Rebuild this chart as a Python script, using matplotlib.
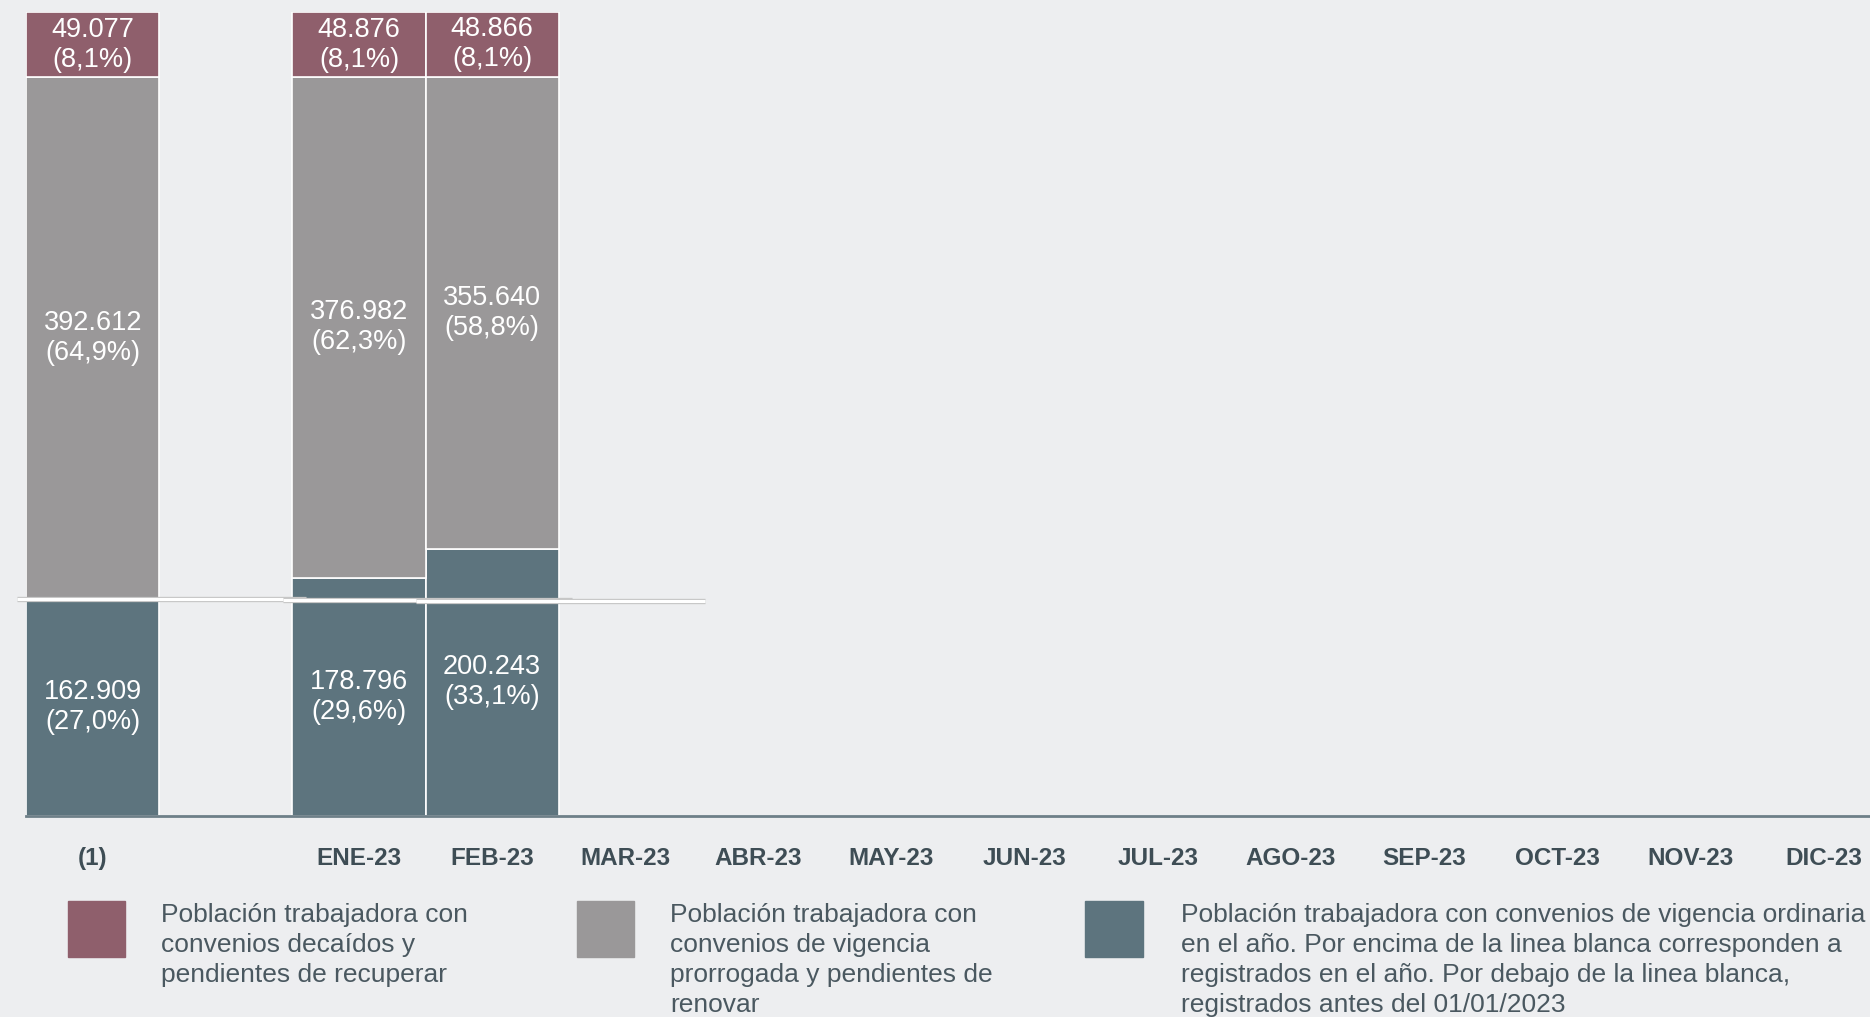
import matplotlib
matplotlib.use('Agg')
import matplotlib.pyplot as plt
import matplotlib.patheffects as pe
from matplotlib.patches import Rectangle

# categorias del eje x (la segunda queda vacia)
categorias = ['(1)', '', 'ENE-23', 'FEB-23', 'MAR-23', 'ABR-23', 'MAY-23', 'JUN-23',
              'JUL-23', 'AGO-23', 'SEP-23', 'OCT-23', 'NOV-23', 'DIC-23']

# barras con datos: (1), ENE-23, FEB-23
barras = ['(1)', 'ENE-23', 'FEB-23']
vigencia_ordinaria = [162909, 178796, 200243]
prorrogada = [392612, 376982, 355640]
decaidos = [49077, 48876, 48866]
# nivel de la linea blanca (registrados antes del 01/01/2023), estimado
antes_2023 = [162909, 162150, 161650]

pct_ordinaria = ['27,0%', '29,6%', '33,1%']
pct_prorrogada = ['64,9%', '62,3%', '58,8%']
pct_decaidos = ['8,1%', '8,1%', '8,1%']

leyenda = [
    'Población trabajadora con\nconvenios decaídos y\npendientes de recuperar',
    'Población trabajadora con\nconvenios de vigencia\nprorrogada y pendientes de\nrenovar',
    'Población trabajadora con convenios de vigencia ordinaria\n'
    'en el año. Por encima de la linea blanca corresponden a\n'
    'registrados en el año. Por debajo de la linea blanca,\n'
    'registrados antes del 01/01/2023',
]

# colores
c_fondo = '#EDEEF0'
c_decaidos = '#8F5F6C'
c_prorrogada = '#9A9899'
c_ordinaria = '#5D747E'
c_texto = '#3E4D55'

plt.rcParams['font.family'] = ['Liberation Sans', 'DejaVu Sans']

fig = plt.figure(figsize=(18.7, 10.17), dpi=100, facecolor=c_fondo)
W, H = 1568, 853  # referencia para posiciones
ax = fig.add_axes([22 / W, 1 - 684 / H, 1 - 22 / W, (684 - 10) / H])
ax.set_facecolor(c_fondo)

x = [categorias.index(b) for b in barras]
fmt = lambda v: f'{v:,}'.replace(',', '.')

ax.bar(x, vigencia_ordinaria, width=1.0, color=c_ordinaria, edgecolor='white', linewidth=1.2)
ax.bar(x, prorrogada, width=1.0, bottom=vigencia_ordinaria, color=c_prorrogada,
       edgecolor='white', linewidth=1.2)
base3 = [a + b for a, b in zip(vigencia_ordinaria, prorrogada)]
ax.bar(x, decaidos, width=1.0, bottom=base3, color=c_decaidos, edgecolor='white', linewidth=1.2)

# etiquetas de valor
kw = dict(ha='center', va='center', color='white', fontsize=19.5, linespacing=1.2)
for i, xi in enumerate(x):
    ax.text(xi, vigencia_ordinaria[i] / 2,
            f'{fmt(vigencia_ordinaria[i])}\n({pct_ordinaria[i]})', **kw)
    ax.text(xi, vigencia_ordinaria[i] + prorrogada[i] / 2,
            f'{fmt(prorrogada[i])}\n({pct_prorrogada[i]})', **kw)
    ax.text(xi, base3[i] + decaidos[i] / 2,
            f'{fmt(decaidos[i])}\n({pct_decaidos[i]})', **kw)

# linea blanca
for xi, y in zip(x, antes_2023):
    ax.plot([xi - 0.57, xi + 1.6], [y, y], color='white', lw=2.4, solid_capstyle='butt',
            clip_on=False,
            path_effects=[pe.Stroke(linewidth=3.8, foreground='#BDBDBD'), pe.Normal()])

ax.set_xlim(-0.5, 13.35)
ax.set_ylim(0, max(base3[i] + decaidos[i] for i in range(len(x))))
ax.set_xticks(range(len(categorias)))
ax.set_xticklabels(categorias, fontsize=17.5, color=c_texto, fontweight='bold')
ax.tick_params(axis='x', length=0, pad=23)
ax.set_yticks([])
for s in ['top', 'left', 'right']:
    ax.spines[s].set_visible(False)
ax.spines['bottom'].set_color('#6E7F88')
ax.spines['bottom'].set_linewidth(2)

# leyenda manual
colores = [c_decaidos, c_prorrogada, c_ordinaria]
px_patch = [57, 484, 910]
px_text = [135, 562, 990]
for c, xp, xt, t in zip(colores, px_patch, px_text, leyenda):
    fig.patches.append(Rectangle((xp / W, 1 - 803 / H), 48 / W, 47 / H,
                                 transform=fig.transFigure, color=c))
    fig.text(xt / W, 1 - 757 / H, t, ha='left', va='top', fontsize=19,
             color='#4A5860', linespacing=1.32)

fig.savefig('out.png', dpi=100, facecolor=c_fondo)
